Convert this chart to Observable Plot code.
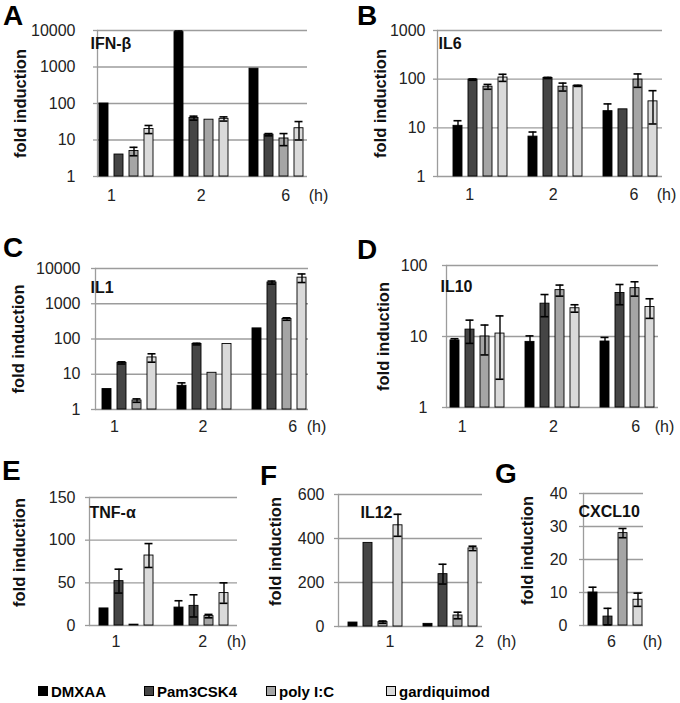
<!DOCTYPE html>
<html><head><meta charset="utf-8">
<script src="https://cdn.jsdelivr.net/npm/d3@7"></script>
<script src="https://cdn.jsdelivr.net/npm/@observablehq/plot@0.6"></script>
<style>
body{margin:0;background:#fff;font-family:"Liberation Sans",Arial,sans-serif;}
#fig{position:relative;width:680px;height:703px;overflow:hidden;background:#fff;}
.panel{position:absolute;}
.letter{position:absolute;font-weight:bold;font-size:28px;line-height:normal;color:#000;}
.leg{position:absolute;top:684px;font-weight:bold;font-size:15px;line-height:16px;color:#000;white-space:nowrap;}
.sw{display:inline-block;width:8px;height:8px;border:1px solid #000;margin-right:3px;vertical-align:1px;}
</style></head><body><div id="fig"></div>
<script>
// ---- data ----
const treatments = ["DMXAA", "Pam3CSK4", "poly I:C", "gardiquimod"];

const ifnbTimes = ["1", "2", "6"];
const ifnbMean = [[100, 4, 5, 20], [9000, 40, 36, 38], [900, 14, 11, 21]];
const ifnbErr  = [[0, 0, 1.3, 5], [700, 5, 0, 5], [0, 1, 4, 11]];
const ifnbTicks = [1, 10, 100, 1000, 10000];

const il6Times = ["1", "2", "6"];
const il6Mean = [[11, 98, 70, 108], [6.6, 106, 70, 73], [22, 24, 98, 35]];
const il6Err  = [[3, 3, 8, 18], [1.6, 3, 13, 2], [9, 0, 30, 23]];
const il6Ticks = [1, 10, 100, 1000];

const il1Times = ["1", "2", "6"];
const il1Mean = [[3.8, 21, 1.8, 30], [4.7, 72, 11, 72], [200, 4000, 370, 5500]];
const il1Err  = [[0, 1.5, 0.2, 8], [1, 4, 0, 0], [0, 400, 30, 1500]];
const il1Ticks = [1, 10, 100, 1000, 10000];

const il10Times = ["1", "2", "6"];
const il10Mean = [[8.8, 12.5, 10, 11], [8.4, 29, 45, 25], [8.5, 41, 48, 26]];
const il10Err  = [[0.5, 4.5, 4.5, 8.5], [1.8, 10, 8, 3], [1.2, 13, 11, 8]];
const il10Ticks = [1, 10, 100];

const tnfTimes = ["1", "2"];
const tnfMean = [[20, 52, 1, 82], [21, 23, 11, 38]];
const tnfErr  = [[0, 14, 0, 14], [8, 13, 2, 12]];
const tnfTicks = [0, 50, 100, 150];

const il12Times = ["1", "2"];
const il12Mean = [[18, 380, 20, 460], [12, 238, 50, 355]];
const il12Err  = [[0, 0, 5, 50], [0, 45, 15, 10]];
const il12Ticks = [0, 200, 400, 600];

const cxclTimes = ["6"];
const cxclMean = [[10, 2.7, 28, 7.8]];
const cxclErr  = [[1.6, 2.5, 1.4, 2]];
const cxclTicks = [0, 10, 20, 30, 40];

// ---- styles / layout ----
const fills = ["#000000", "#454545", "#a5a5a5", "#dadada"];
const gridColor = "#9c9c9c";
const FONT = "'Liberation Sans', Arial, sans-serif";

const panels = [
  {letter: "A", letterPos: [3, 0], gene: "IFN-β", times: ifnbTimes, mean: ifnbMean, err: ifnbErr, ticks: ifnbTicks, log: true,
   box: [0, 0, 340, 215], m: [30, 33, 39, 97], po: 0.17, align: 0.4, tickPad: 18,
   labelDx: [-7.6, 7.1, 16.7], labelDy: 19, hDx: 11, geneD: [-7, 13], yLab: [-77, 0]},
  {letter: "B", letterPos: [357, 0], gene: "IL6", times: il6Times, mean: il6Mean, err: il6Err, ticks: il6Ticks, log: true,
   box: [340, 0, 340, 215], m: [30, 18, 39, 97], po: 0.385, align: 0.75, tickPad: 8,
   labelDx: [-3.4, 5.3, 11], labelDy: 18, hDx: 4, geneD: [1, 13], yLab: [-57, 0]},
  {letter: "C", letterPos: [3, 232], gene: "IL1", times: il1Times, mean: il1Mean, err: il1Err, ticks: il1Ticks, log: true,
   box: [0, 215, 340, 225], m: [53, 32, 31, 95], po: 0.265, align: 0.75, tickPad: 11,
   labelDx: [-7.6, 6, 20.7], labelDy: 17, hDx: 8, geneD: [-5, 19], yLab: [-77, 0]},
  {letter: "D", letterPos: [357, 234], gene: "IL10", times: il10Times, mean: il10Mean, err: il10Err, ticks: il10Ticks, log: true,
   box: [340, 215, 340, 225], m: [50, 22, 33, 106], po: 0.2, align: 0.5, tickPad: 15,
   labelDx: [-7.7, 8.5, 15.8], labelDy: 19, hDx: 6, geneD: [-6, 21], yLab: [-63, 0]},
  {letter: "E", letterPos: [2, 455], gene: "TNF-α", times: tnfTimes, mean: tnfMean, err: tnfErr, ticks: tnfTicks, log: false,
   box: [0, 440, 250, 215], m: [57, 13, 30, 89], po: 0.485, align: 0.53, tickPad: 10,
   labelDx: [-3, 8.6], labelDy: 16, hDx: -1, geneD: [0, 15], yLab: [-70, -9]},
  {letter: "F", letterPos: [260, 460], gene: "IL12", times: il12Times, mean: il12Mean, err: il12Err, ticks: il12Ticks, log: false,
   box: [250, 440, 240, 215], m: [54, 8, 29, 88], po: 0.355, align: 0.64, tickPad: 10,
   labelDx: [22, 36.5], labelDy: 15, hDx: 24, geneD: [22, 18], yLab: [-63, -9]},
  {letter: "G", letterPos: [495, 458], gene: "CXCL10", times: cxclTimes, mean: cxclMean, err: cxclErr, ticks: cxclTicks, log: false,
   box: [490, 440, 190, 215], m: [53, 37, 30, 93], po: 0.2, align: 0.83, tickPad: 12,
   labelDx: [3.5], labelDy: 16, hDx: 9, geneD: [-5, 18], yLab: [-56, -9]}
];

const fig = document.getElementById("fig");
const keyOf = (t, j) => `${t}|${j}`;

for (const p of panels) {
  const domainKeys = [];
  p.times.forEach((t, g) => {
    if (g > 0) domainKeys.push(`gap${g}`);
    treatments.forEach((_, j) => domainKeys.push(keyOf(t, j)));
  });
  const ymin = p.ticks[0], ymax = p.ticks[p.ticks.length - 1];
  const rows = [];
  p.times.forEach((t, g) => treatments.forEach((tr, j) => {
    const v = p.mean[g][j], e = p.err[g][j];
    rows.push({key: keyOf(t, j), treatment: tr, v, e, lo: Math.max(v - e, p.log ? ymin * 1.05 : 0.2), hi: v + e});
  }));
  const errRows = rows.filter(d => d.e > 0);
  const [top, right, bottom, left] = p.m;

  const timeMarks = p.times.map((t, g) => Plot.text([t], {
    x: () => keyOf(t, 1), frameAnchor: "bottom", dx: p.labelDx[g], dy: p.labelDy,
    textAnchor: "middle", lineAnchor: "middle", fontSize: 16, fill: "#222"
  }));

  const chart = Plot.plot({
    width: p.box[2], height: p.box[3],
    marginTop: top, marginRight: right, marginBottom: bottom, marginLeft: left,
    style: {background: "transparent", overflow: "visible", fontFamily: FONT, fontSize: "16px"},
    x: {type: "band", domain: domainKeys, paddingInner: 0.4, paddingOuter: p.po, align: p.align, axis: null},
    y: {type: p.log ? "log" : "linear", domain: [ymin, ymax], axis: null},
    color: {domain: treatments, range: fills},
    marks: [
      Plot.gridY({ticks: p.ticks, stroke: gridColor, strokeOpacity: 1, strokeWidth: 1.3}),
      Plot.axisY({ticks: p.ticks, tickSize: 4, tickPadding: p.tickPad, stroke: gridColor, strokeWidth: 1.3,
        fill: "#222", fontSize: 16, tickFormat: d => String(d), label: null}),
      Plot.frame({anchor: "left", stroke: gridColor, strokeWidth: 1.3}),
      Plot.barY(rows, {x: "key", y1: () => ymin, y2: "v", fill: "treatment", stroke: "#000", strokeWidth: 0.9}),
      Plot.ruleX(errRows, {x: "key", y1: "lo", y2: "hi", stroke: "#000", strokeWidth: 1.4}),
      Plot.tickY(errRows, {x: "key", y: "hi", stroke: "#000", strokeWidth: 1.6, insetLeft: 0.5, insetRight: 0.5}),
      Plot.tickY(errRows.filter(d => d.v - d.e > ymin), {x: "key", y: "lo", stroke: "#000", strokeWidth: 1.6, insetLeft: 0.5, insetRight: 0.5}),
      ...timeMarks,
      Plot.text(["(h)"], {frameAnchor: "bottom-right", dx: p.hDx, dy: p.labelDy, textAnchor: "middle",
        lineAnchor: "middle", fontSize: 16, fill: "#222"}),
      Plot.text([p.gene], {frameAnchor: "top-left", dx: p.geneD[0], dy: p.geneD[1], textAnchor: "start",
        lineAnchor: "middle", fontSize: 16, fontWeight: "bold", fill: "#111"}),
      Plot.text(["fold induction"], {frameAnchor: "left", dx: p.yLab[0], dy: p.yLab[1], rotate: -90,
        textAnchor: "middle", lineAnchor: "middle", fontSize: 16.5, fontWeight: "bold", fill: "#111"})
    ]
  });
  chart.classList.add("panel");
  chart.style.left = p.box[0] + "px";
  chart.style.top = p.box[1] + "px";
  fig.appendChild(chart);

  const L = document.createElement("div");
  L.className = "letter";
  L.textContent = p.letter;
  L.style.left = p.letterPos[0] + "px";
  L.style.top = p.letterPos[1] + "px";
  fig.appendChild(L);
}

// legend
const legendX = [38, 144, 266, 386];
treatments.forEach((t, i) => {
  const d = document.createElement("div");
  d.className = "leg";
  d.style.left = legendX[i] + "px";
  const s = document.createElement("span");
  s.className = "sw";
  s.style.background = fills[i];
  d.appendChild(s);
  d.appendChild(document.createTextNode(t));
  fig.appendChild(d);
});
</script>
</body></html>
